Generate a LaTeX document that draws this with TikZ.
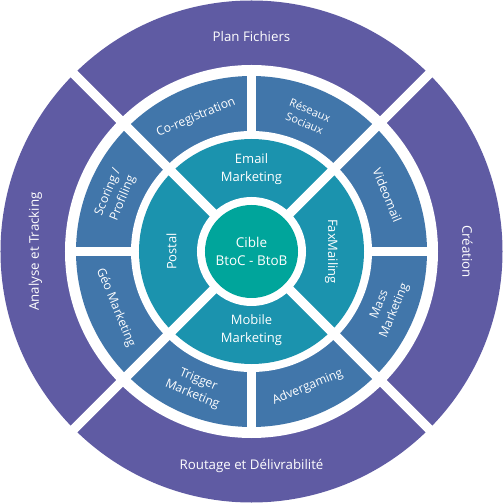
\documentclass[tikz,border=0pt]{standalone}
\usepackage{fontspec}
\setmainfont{Open Sans}
\definecolor{outerc}{HTML}{5F5BA3}
\definecolor{midc}{HTML}{4176AA}
\definecolor{innc}{HTML}{1B93AE}
\definecolor{cenc}{HTML}{00A59B}
\begin{document}
\begin{tikzpicture}[x=1pt,y=1pt,
  lbl/.style={text=white, align=center, inner sep=0pt},
  outl/.style={lbl, font=\fontsize{13.3}{15}\selectfont},
  midl/.style={lbl, font=\fontsize{12.2}{16}\selectfont},
  smalll/.style={lbl, font=\fontsize{11}{14}\selectfont},
  innl/.style={lbl, font=\fontsize{13}{18}\selectfont},
  cenl/.style={lbl, font=\fontsize{13.5}{18}\selectfont},
  gap/.style={white, line width=9.5pt}]
\useasboundingbox (-251.5,-251.5) rectangle (251.5,251.5);
\fill[outerc] (0,0) circle (251);
\fill[white] (0,0) circle (186.5);
\fill[midc] (0,0) circle (175.5);
\fill[white] (0,0) circle (120.5);
\fill[innc] (0,0) circle (112.5);
\fill[white] (0,0) circle (54.5);
\fill[cenc] (0,0) circle (46.5);
\foreach \a in {45,135,225,315} \draw[gap] (\a:50) -- (\a:260);
\foreach \a in {0,90,180,270} \draw[gap] (\a:116) -- (\a:181);
% outer ring
\node[outl] (plan) at (90:215) {Plan Fichiers};
\node[outl, rotate=-90] (crea) at (0:216) {Création};
\node[outl] (rout) at (270:215) {Routage et Délivrabilité};
\node[outl, rotate=90] (anal) at (180:216) {Analyse et Tracking};
% middle ring
\node[midl, rotate=22.5] (coreg) at (112.5:145) {Co-registration};
\node[smalll, rotate=-22.5] (reseaux) at (67.5:146) {Réseaux\\Sociaux};
\node[midl, rotate=-67.5] (video) at (22.5:147) {Videomail};
\node[midl, rotate=67.5] (mass) at (-22.5:147) {Mass\\Marketing};
\node[midl, rotate=22.5] (adver) at (-67.5:147) {Advergaming};
\node[midl, rotate=-22.5] (trig) at (-112.5:147) {Trigger\\Marketing};
\node[midl, rotate=-67.5] (geo) at (-157.5:147) {Géo Marketing};
\node[midl, rotate=67.5] (scor) at (157.5:147) {Scoring /\\Profiling};
% inner ring
\node[innl] (email) at (0,82) {Email\\Marketing};
\node[innl, rotate=-90] (fax) at (80,0) {FaxMailing};
\node[innl] (mobile) at (0,-79) {Mobile\\Marketing};
\node[innl, rotate=90] (postal) at (-80,0) {Postal};
% centre
\node[cenl] (cible) at (0,0) {Cible\\BtoC - BtoB};
\end{tikzpicture}
\end{document}
